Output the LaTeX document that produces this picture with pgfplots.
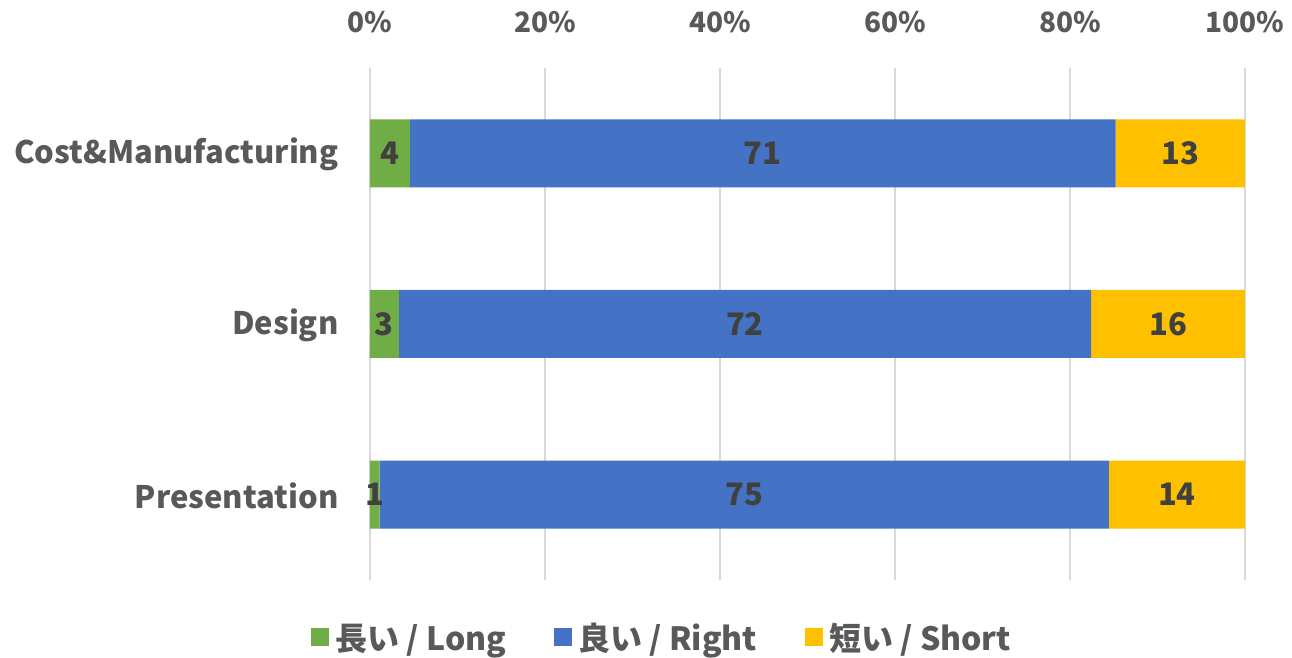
\documentclass[border=0pt]{standalone}
\usepackage{pgfplots}
\pgfplotsset{compat=1.18}
\usepackage{pgfplotstable}
\usepackage{fontspec}
\setmainfont{Noto Sans CJK JP}
\definecolor{cgreen}{HTML}{70AD47}
\definecolor{cblue}{HTML}{4472C4}
\definecolor{cyellow}{HTML}{FFC000}
\definecolor{tgray}{HTML}{595959}
\definecolor{lgray}{HTML}{404040}
\definecolor{ggray}{HTML}{D9D9D9}
\pgfplotstableread{
cat long right short total
0 1 75 14 90
1 3 72 16 91
2 4 71 13 88
}\data
\begin{document}
\begin{tikzpicture}
\path[use as bounding box] (-370pt,-78pt) rectangle (922pt,580pt);
\begin{axis}[
  at={(0,0)}, anchor=south west,
  scale only axis, width=875pt, height=512pt,
  xbar stacked, bar width=68pt,
  xmin=0, xmax=100, ymin=-0.5, ymax=2.5,
  xtick={0,20,40,60,80,100},
  xticklabels={0\%,20\%,40\%,60\%,80\%,100\%},
  xticklabel pos=upper,
  ytick={0,1,2},
  yticklabels={Presentation,Design,Cost\&Manufacturing},
  axis line style={draw=none},
  major tick length=0pt,
  xmajorgrids, grid style={draw=ggray, line width=1.2pt},
  x tick label style={font=\fontsize{28}{32}\selectfont\bfseries, text=tgray, yshift=32pt},
  y tick label style={font=\fontsize{31}{34}\selectfont\bfseries, text=tgray, xshift=-28pt, yshift=-1pt},
  legend style={at={(0.334,-0.113)}, anchor=center, draw=none, fill=none,
    legend columns=3, font=\fontsize{32}{36}\selectfont\bfseries, text=tgray,
    /tikz/every odd column/.append style={column sep=4pt},
    /tikz/every even column/.append style={column sep=46pt}},
  legend image code/.code={\fill[#1] (0pt,-8pt) rectangle (18pt,10pt);},
]
\addplot[fill=cgreen, draw=none] table[x expr=\thisrow{long}/\thisrow{total}*100, y=cat] {\data};
\addplot[fill=cblue, draw=none] table[x expr=\thisrow{right}/\thisrow{total}*100, y=cat] {\data};
\addplot[fill=cyellow, draw=none] table[x expr=\thisrow{short}/\thisrow{total}*100, y=cat] {\data};
\legend{長い / Long, 良い / Right, 短い / Short}
\end{axis}
\begin{axis}[
  at={(0,0)}, anchor=south west,
  scale only axis, width=875pt, height=512pt,
  xmin=0, xmax=100, ymin=-0.5, ymax=2.5,
  hide axis,
  nodes near coords, point meta=explicit,
  /pgf/number format/assume math mode=true,
  every node near coord/.append style={anchor=center, font=\fontsize{31}{34}\selectfont\bfseries, text=lgray},
]
\addplot[only marks, mark=*, mark size=0pt, draw=none] table[x expr=\thisrow{long}/2/\thisrow{total}*100, y=cat, meta=long] {\data};
\addplot[only marks, mark=*, mark size=0pt, draw=none] table[x expr=(\thisrow{long}+\thisrow{right}/2)/\thisrow{total}*100, y=cat, meta=right] {\data};
\addplot[only marks, mark=*, mark size=0pt, draw=none] table[x expr=(\thisrow{long}+\thisrow{right}+\thisrow{short}/2)/\thisrow{total}*100, y=cat, meta=short] {\data};
\end{axis}
\end{tikzpicture}
\end{document}
